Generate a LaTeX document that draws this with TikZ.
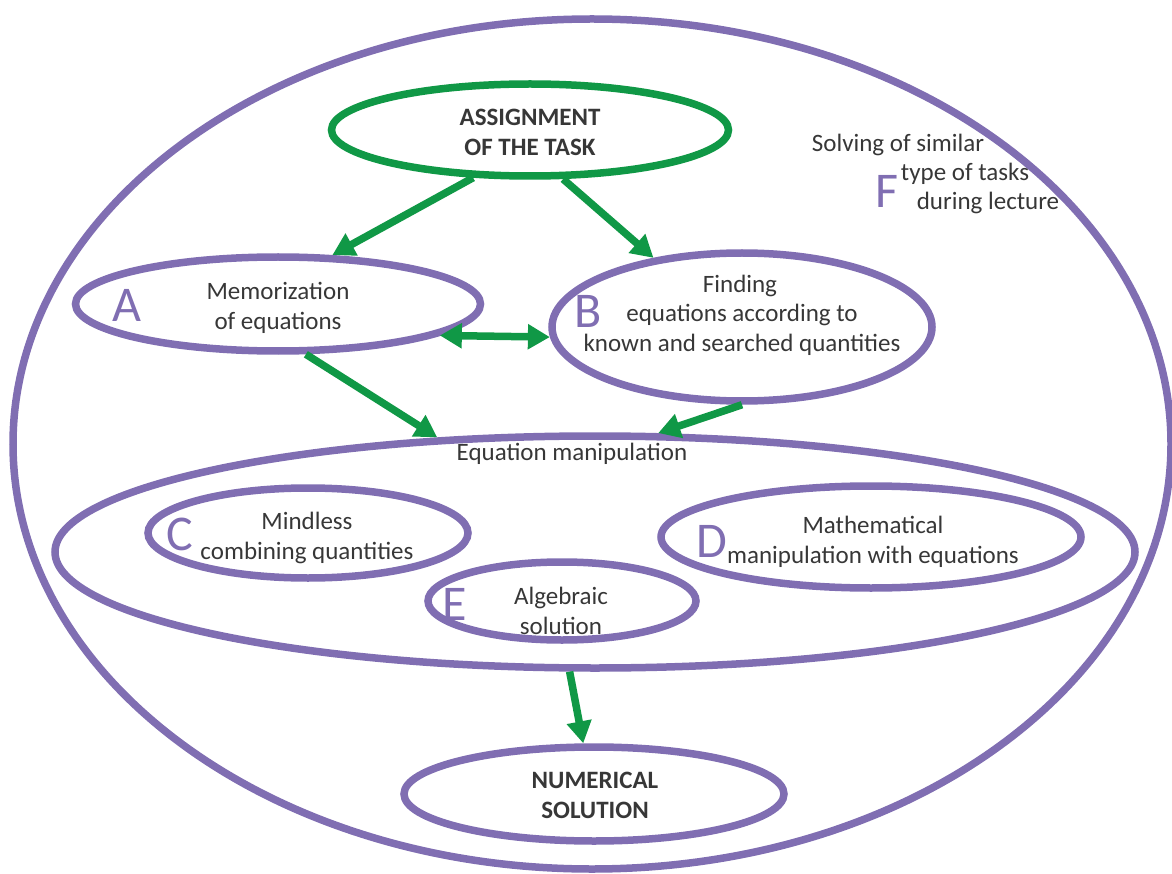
\documentclass[tikz,border=0pt]{standalone}
\usepackage{fontspec}
\setmainfont{Carlito}
\usetikzlibrary{shapes.geometric,arrows.meta}
\definecolor{pur}{RGB}{128,110,178}
\definecolor{grn}{RGB}{16,152,70}
\definecolor{txt}{RGB}{55,55,55}
\begin{document}
\begin{tikzpicture}[x=1pt,y=-1pt,
  oval/.style={ellipse,draw=pur,line width=7.5pt,inner sep=0pt},
  goval/.style={ellipse,draw=grn,line width=7.5pt,inner sep=0pt},
  lbl/.style={text=txt,font=\fontsize{25}{30}\selectfont,align=center,inner sep=0pt},
  blbl/.style={lbl,font=\fontsize{25}{30}\selectfont\bfseries},
  letter/.style={text=pur,font=\fontsize{50}{50}\selectfont,inner sep=0pt},
  garrow/.style={draw=grn,line width=7.5pt,-{Triangle[length=22pt,width=24pt]}},
  gdarrow/.style={draw=grn,line width=7.5pt,{Triangle[length=22pt,width=24pt]}-{Triangle[length=22pt,width=24pt]}}]
\useasboundingbox (0,0) rectangle (1172,874);
% outer ellipse
\node[oval,minimum width=1158pt,minimum height=850pt] (outer) at (592,444) {};
% top
\node[goval,minimum width=397pt,minimum height=92pt] (top) at (530,130) {};
\node[blbl] (toptxt) at (530,132) {ASSIGNMENT\\OF THE TASK};
% A
\node[oval,minimum width=405pt,minimum height=94pt] (a) at (278,304) {};
\node[lbl] (atxt) at (278,308) {Memorization\\of equations};
\node[letter] (al) at (127,305) {A};
% B
\node[oval,minimum width=380pt,minimum height=148pt] (b) at (742,327) {};
\node[lbl,anchor=base] (b1) at (740,293) {Finding};
\node[lbl,anchor=base] (b2) at (742,322) {equations according to};
\node[lbl,anchor=base] (b3) at (742,352) {known and searched quantities};
\node[letter] (bl) at (588,311) {B};
% equation manipulation
\node[oval,minimum width=1080pt,minimum height=232pt] (eq) at (595,552) {};
\node[lbl] (eqtxt) at (572,454) {Equation manipulation};
% C
\node[oval,minimum width=320pt,minimum height=90pt] (c) at (308,533) {};
\node[lbl] (ctxt) at (307,538) {Mindless\\combining quantities};
\node[letter] (cl) at (180,534) {C};
% D
\node[oval,minimum width=420pt,minimum height=102pt] (d) at (871,537) {};
\node[lbl] (dtxt) at (873,542) {Mathematical\\manipulation with equations};
\node[letter] (dl) at (712,541) {D};
% E
\node[oval,minimum width=268pt,minimum height=78pt] (e) at (562,601) {};
\node[lbl] (etxt) at (561,611) {Algebraic\\solution};
\node[letter] (el) at (455,604) {E};
% numerical
\node[oval,minimum width=380pt,minimum height=94pt] (num) at (594,794) {};
\node[blbl] (numtxt) at (595,795) {NUMERICAL\\SOLUTION};
% F
\node[lbl,anchor=base] (f1) at (898,152) {Solving of similar};
\node[lbl,anchor=base] (f2) at (965,181) {type of tasks};
\node[lbl,anchor=base] (f3) at (988,210) {during lecture};
\node[letter] (fl) at (887,191) {F};
% arrows
\draw[garrow] (top.220) -- (a.42);
\draw[garrow] (top.304) -- (b.142);
\draw[gdarrow] (a.349) -- (b.183);
\draw[garrow] (a.299) -- (eq.144);
\draw[garrow] (b.south) -- (eq.62);
\draw[garrow] (eq.258) -- (num.102);
\end{tikzpicture}
\end{document}
